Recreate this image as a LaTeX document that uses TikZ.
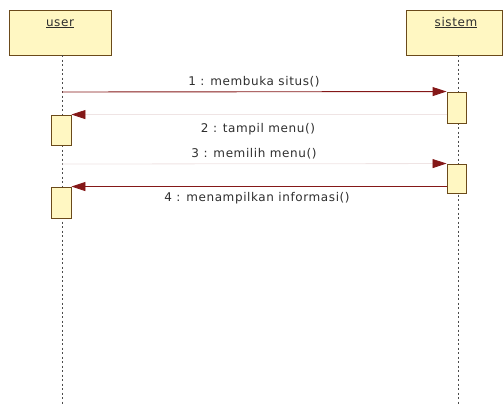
\documentclass[tikz,border=0pt]{standalone}
\usepackage{fontspec}
\setmainfont{DejaVu Sans}[LetterSpace=5]
\usetikzlibrary{arrows.meta}
\definecolor{boxfill}{HTML}{FFF7C2}
\definecolor{boxline}{HTML}{6B4A1A}
\definecolor{msgred}{HTML}{841818}
\definecolor{faint}{HTML}{EFE4E4}
\definecolor{txt}{HTML}{2E2E2E}
\tikzset{
  x=1pt, y=-1pt,
  head/.style={draw=boxline, fill=boxfill, line width=0.9pt, inner sep=0pt},
  headtext/.style={text=txt, font=\fontsize{12}{14}\selectfont, anchor=base, inner sep=0pt},
  actbox/.style={draw=boxline, fill=boxfill, line width=0.9pt, inner sep=0pt, minimum width=19pt},
  lifeline/.style={draw=black!70, line width=1pt, dash pattern=on 2pt off 2.5pt},
  msg/.style={draw=msgred, line width=0.9pt, -{Triangle[length=14pt,width=9pt,fill=msgred]}},
  faintmsg/.style={draw=faint, line width=0.8pt, -{Triangle[length=14pt,width=9pt,color=msgred,fill=msgred]}},
  msgtext/.style={text=txt, font=\fontsize{12}{14}\selectfont, anchor=base, inner sep=0pt},
}
\begin{document}
\begin{tikzpicture}
\useasboundingbox (0,0) rectangle (503,405);
% object heads
\node[head, minimum width=102pt, minimum height=45pt] (user) at (60,32.5) {};
\node[head, minimum width=96pt, minimum height=45pt] (sistem) at (454,32.5) {};
\node[headtext] (userlbl) at (60,26) {\underline{user}};
\node[headtext] (sistemlbl) at (456,26) {\underline{sistem}};
% lifelines
\coordinate (uTop) at (62,55);
\coordinate (uEnd) at (62,405);
\coordinate (sTop) at (458,55);
\coordinate (sEnd) at (458,405);
\draw[lifeline] (uTop) -- (uEnd);
\draw[lifeline] (sTop) -- (sEnd);
% activation bars
\node[actbox, minimum width=20pt, minimum height=30pt] (ua1) at (61,130) {};
\node[actbox, minimum width=20pt, minimum height=31pt] (ua2) at (61,202.5) {};
\node[actbox, minimum height=31pt] (sa1) at (456.5,107.5) {};
\node[actbox, minimum height=29pt] (sa2) at (456.5,178.5) {};
% messages
\coordinate (m1s) at (62,92);
\coordinate (m3s) at (62,164);
\draw[msg] (m1s) -- (sa1.north west);
\draw[faintmsg] (sa1.west |- ua1.north) -- (ua1.north east);
\draw[faintmsg] (m3s) -- (sa2.north west);
\draw[msg] (sa2.west |- ua2.north) -- (ua2.north east);
% message labels
\node[msgtext] (l1) at (254,85) {1 : membuka situs()};
\node[msgtext] (l2) at (258,132) {2 : tampil menu()};
\node[msgtext] (l3) at (254,157) {3 : memilih menu()};
\node[msgtext] (l4) at (257,201) {4 : menampilkan informasi()};
\end{tikzpicture}
\end{document}
